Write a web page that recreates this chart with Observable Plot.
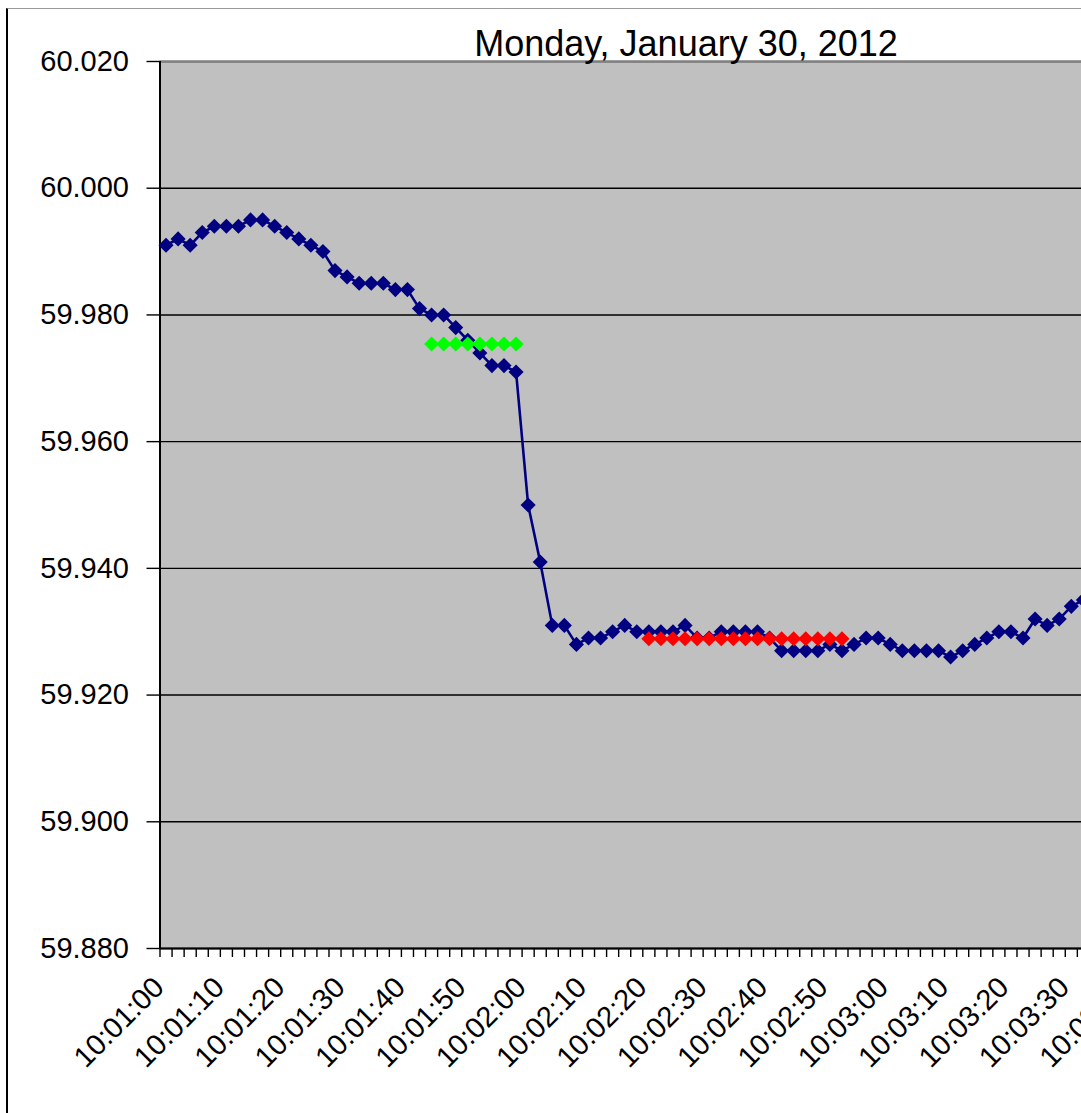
<!DOCTYPE html>
<html>
<head>
<meta charset="utf-8">
<script src="https://cdn.jsdelivr.net/npm/d3@7"></script>
<script src="https://cdn.jsdelivr.net/npm/@observablehq/plot@0.6"></script>
<style>
  html, body { margin: 0; padding: 0; background: #fff; overflow: hidden; }
  #wrap { position: relative; width: 1081px; height: 1113px; overflow: hidden; }
  #border { position: absolute; left: 6px; top: 8px; right: -2px; bottom: -2px;
            border-left: 2px solid #000; border-top: 1px solid #9a9a9a; pointer-events: none; }
  #title { position: absolute; top: 26px; left: 686px; transform: translateX(-50%);
           font-family: "Liberation Sans", Arial, sans-serif; font-size: 36px; line-height: 36px;
           white-space: nowrap; color: #000; }
  svg { overflow: hidden; }
</style>
</head>
<body>
<div id="wrap">
  <div id="chart"></div>
  <div id="title">Monday, January 30, 2012</div>
  <div id="border"></div>
</div>
<script>
// ---- data ----
const times = [
  "10:01:00","10:01:02","10:01:04","10:01:06","10:01:08","10:01:10","10:01:12","10:01:14","10:01:16","10:01:18",
  "10:01:20","10:01:22","10:01:24","10:01:26","10:01:28","10:01:30","10:01:32","10:01:34","10:01:36","10:01:38",
  "10:01:40","10:01:42","10:01:44","10:01:46","10:01:48","10:01:50","10:01:52","10:01:54","10:01:56","10:01:58",
  "10:02:00","10:02:02","10:02:04","10:02:06","10:02:08","10:02:10","10:02:12","10:02:14","10:02:16","10:02:18",
  "10:02:20","10:02:22","10:02:24","10:02:26","10:02:28","10:02:30","10:02:32","10:02:34","10:02:36","10:02:38",
  "10:02:40","10:02:42","10:02:44","10:02:46","10:02:48","10:02:50","10:02:52","10:02:54","10:02:56","10:02:58",
  "10:03:00","10:03:02","10:03:04","10:03:06","10:03:08","10:03:10","10:03:12","10:03:14","10:03:16","10:03:18",
  "10:03:20","10:03:22","10:03:24","10:03:26","10:03:28","10:03:30","10:03:32"
];
const frequency = [
  59.991,59.992,59.991,59.993,59.994,59.994,59.994,59.995,59.995,59.994,
  59.993,59.992,59.991,59.990,59.987,59.986,59.985,59.985,59.985,59.984,
  59.984,59.981,59.980,59.980,59.978,59.976,59.974,59.972,59.972,59.971,
  59.950,59.941,59.931,59.931,59.928,59.929,59.929,59.930,59.931,59.930,
  59.930,59.930,59.930,59.931,59.929,59.929,59.930,59.930,59.930,59.930,
  59.929,59.927,59.927,59.927,59.927,59.928,59.927,59.928,59.929,59.929,
  59.928,59.927,59.927,59.927,59.927,59.926,59.927,59.928,59.929,59.930,
  59.930,59.929,59.932,59.931,59.932,59.934,59.935
];
const greenTimes = ["10:01:44","10:01:46","10:01:48","10:01:50","10:01:52","10:01:54","10:01:56","10:01:58"];
const greenValues = [59.9754,59.9754,59.9754,59.9754,59.9754,59.9754,59.9754,59.9754];
const redTimes = ["10:02:20","10:02:22","10:02:24","10:02:26","10:02:28","10:02:30","10:02:32","10:02:34","10:02:36",
  "10:02:38","10:02:40","10:02:42","10:02:44","10:02:46","10:02:48","10:02:50","10:02:52"];
const redValues = [59.9289,59.9289,59.9289,59.9289,59.9289,59.9289,59.9289,59.9289,59.9289,
  59.9289,59.9289,59.9289,59.9289,59.9289,59.9289,59.9289,59.9289];
const xTickLabels = ["10:01:00","10:01:10","10:01:20","10:01:30","10:01:40","10:01:50","10:02:00","10:02:10",
  "10:02:20","10:02:30","10:02:40","10:02:50","10:03:00","10:03:10","10:03:20","10:03:30","10:03:40"];
const yTicks = [59.88, 59.90, 59.92, 59.94, 59.96, 59.98, 60.00, 60.02];

// ---- build ----
const T = s => new Date(`2012-01-30T${s}Z`);
const main = times.map((t, i) => ({t: T(t), v: frequency[i]}));
const green = greenTimes.map((t, i) => ({t: T(t), v: greenValues[i]}));
const red = redTimes.map((t, i) => ({t: T(t), v: redValues[i]}));
const xLeft = T("10:00:59");
const xRight = new Date(+xLeft + 152690);
// category boundary ticks (one per 2-second sample)
const boundaryTicks = d3.range(0, 78).map(k => new Date(+xLeft + k * 2000));
const labelTicks = xTickLabels.map(T);

const navy = "#000080";
const font = "'Liberation Sans', Arial, sans-serif";

const chart = Plot.plot({
  width: 1081,
  height: 1113,
  marginLeft: 159.5,
  marginRight: 0,
  marginTop: 61,
  marginBottom: 165,
  style: {fontFamily: font, fontSize: "29px", color: "#000", background: "transparent"},
  x: {type: "utc", domain: [xLeft, xRight], axis: null},
  y: {domain: [59.88, 60.02], axis: null},
  marks: [
    Plot.frame({fill: "#c0c0c0", stroke: null}),
    Plot.ruleY(yTicks, {stroke: "#000", strokeWidth: 1.4}),
    Plot.ruleY([60.02], {stroke: "#808080", strokeWidth: 2}),
    Plot.ruleX([xLeft], {stroke: "#000", strokeWidth: 2}),
    Plot.ruleY([59.88], {stroke: "#000", strokeWidth: 2}),
    Plot.axisY({ticks: yTicks, tickFormat: d3.format(".3f"), tickSize: 13, tickPadding: 18,
                stroke: "#000", strokeWidth: 1.4, fontSize: 29, label: null}),
    Plot.axisX({ticks: boundaryTicks, tickSize: 9, tickFormat: null, text: null, stroke: "#000",
                strokeWidth: 1.4, label: null}),
    Plot.axisX({ticks: labelTicks, tickSize: 0, tickRotate: -45, tickPadding: 14, dx: -7, dy: 20,
                tickFormat: d3.utcFormat("%H:%M:%S"), fontSize: 29, label: null}),
    Plot.line(main, {x: "t", y: "v", stroke: navy, strokeWidth: 2.6}),
    Plot.dot(main, {x: "t", y: "v", symbol: "diamond2", r: 6.8, fill: navy, stroke: null}),
    Plot.dot(green, {x: "t", y: "v", symbol: "diamond2", r: 6.8, fill: "#00ff00", stroke: null}),
    Plot.dot(red, {x: "t", y: "v", symbol: "diamond2", r: 6.8, fill: "#ff0000", stroke: null})
  ]
});
document.getElementById("chart").appendChild(chart);
</script>
</body>
</html>
